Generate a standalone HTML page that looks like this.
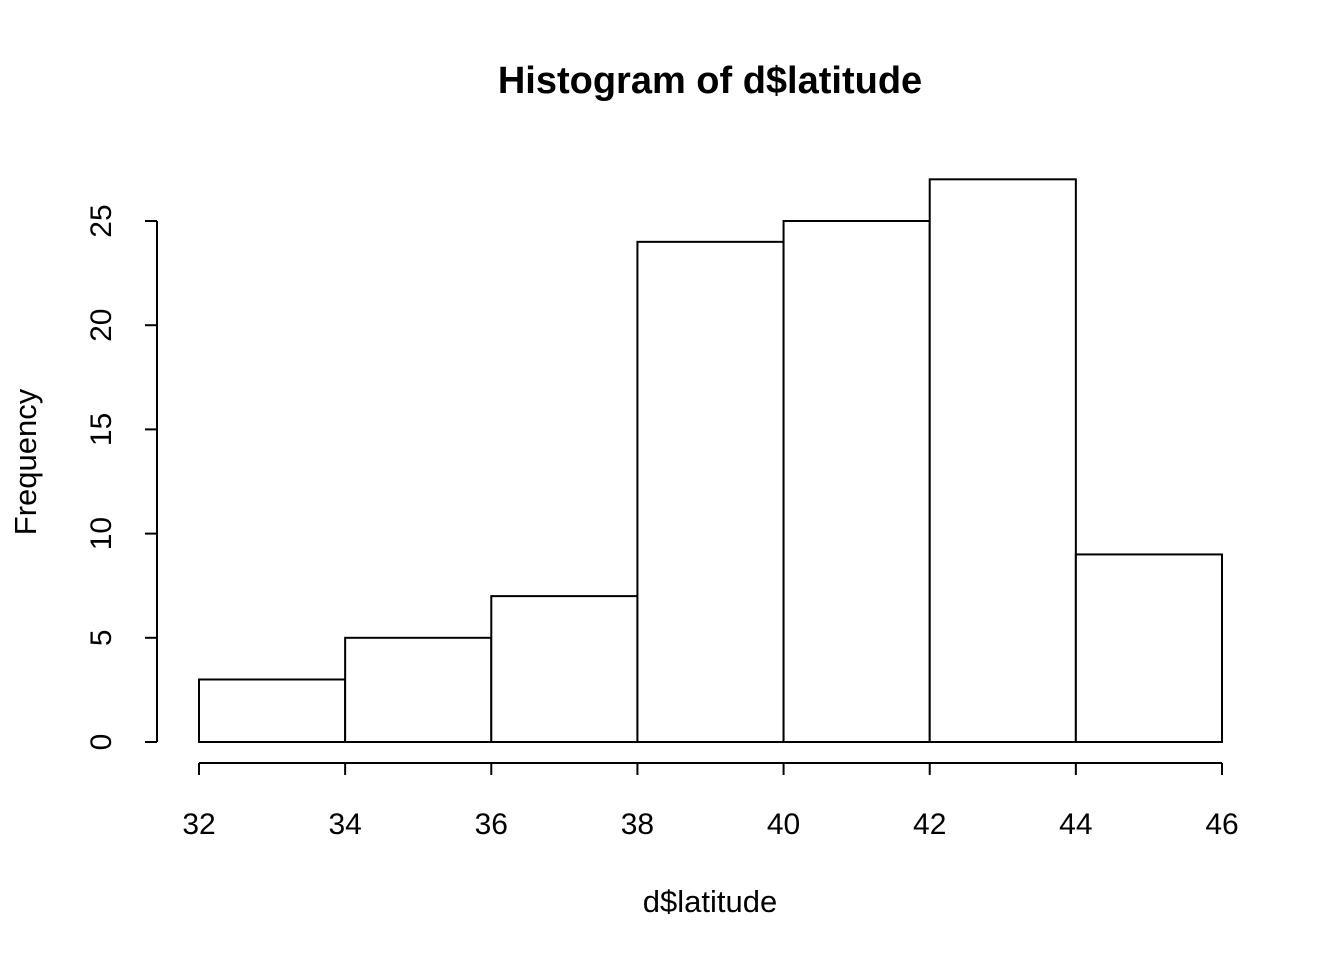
<!DOCTYPE html>
<html><head><meta charset="utf-8"><style>
html,body{margin:0;padding:0;background:#fff}
svg{display:block;font-family:"Liberation Sans",Arial,sans-serif}
</style></head><body>
<svg id="chart" width="1344" height="960" viewBox="0 0 1344 960">
<rect width="1344" height="960" fill="#fff"/>
<text x="710" y="93" text-anchor="middle" font-size="38" font-weight="bold">Histogram of d$latitude</text>
<text x="710" y="912" text-anchor="middle" font-size="31">d$latitude</text>
<text transform="translate(36,462) rotate(-90)" text-anchor="middle" font-size="31">Frequency</text>
<g id="bars"></g><g id="xaxis"></g><g id="yaxis"></g>
</svg>
<script>
const breaks=[32,34,36,38,40,42,44,46];
const counts=[3,5,7,24,25,27,9];
const xTicks=[32,34,36,38,40,42,44,46];
const yTicks=[0,5,10,15,20,25];
const NS="http://www.w3.org/2000/svg";
function X(v){return 199+(v-32)*(1222-199)/14;}
function Y(v){return 742-v*(742-221)/25;}
function mk(tag,attrs,parent){const e=document.createElementNS(NS,tag);for(const k in attrs)e.setAttribute(k,attrs[k]);parent.appendChild(e);return e;}
const bars=document.getElementById('bars');
counts.forEach((c,i)=>{
  const r=mk('rect',{x:X(breaks[i]),y:Y(c),width:X(breaks[i+1])-X(breaks[i]),height:Y(0)-Y(c),fill:'#fff',stroke:'#000','stroke-width':2},bars);
  
  
});
const xa=document.getElementById('xaxis');


mk('line',{x1:X(xTicks[0]),x2:X(xTicks[xTicks.length-1]),y1:763,y2:763,stroke:'#000','stroke-width':2},xa);
xTicks.forEach(t=>{
  mk('line',{x1:X(t),x2:X(t),y1:763,y2:775,stroke:'#000','stroke-width':2},xa);
  const tx=mk('text',{x:X(t),y:834,'text-anchor':'middle','font-size':30},xa);
  tx.textContent=t;
  
  
});
const ya=document.getElementById('yaxis');


mk('line',{x1:157,x2:157,y1:Y(yTicks[0]),y2:Y(yTicks[yTicks.length-1]),stroke:'#000','stroke-width':2},ya);
yTicks.forEach(t=>{
  mk('line',{x1:145,x2:157,y1:Y(t),y2:Y(t),stroke:'#000','stroke-width':2},ya);
  const tx=mk('text',{transform:'translate(111,'+Y(t)+') rotate(-90)','text-anchor':'middle','font-size':30},ya);
  tx.textContent=t;
  
  
});
</script>
</body></html>
